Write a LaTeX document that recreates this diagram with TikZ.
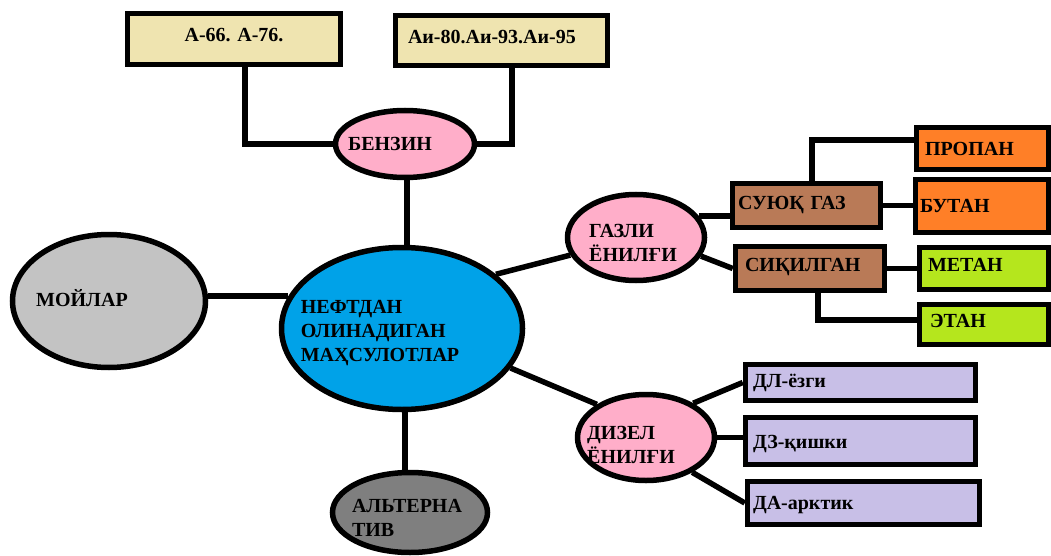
\documentclass[tikz,border=0pt]{standalone}
\usepackage{fontspec}
\setmainfont{Liberation Serif}
\usetikzlibrary{shapes.geometric}
\definecolor{wheat}{HTML}{EFE4B0}
\definecolor{pinkish}{HTML}{FFAEC9}
\definecolor{skyblue}{HTML}{00A2E8}
\definecolor{lightgrey}{HTML}{C3C3C3}
\definecolor{darkgrey}{HTML}{7F7F7F}
\definecolor{brownish}{HTML}{B97A57}
\definecolor{orangish}{HTML}{FF7F27}
\definecolor{limey}{HTML}{B5E61D}
\definecolor{lavender}{HTML}{C8BFE7}

\begin{document}
\begin{tikzpicture}[x=1pt,y=-1pt,line width=5.5pt,
        font=\rmfamily\bfseries\fontsize{20}{24}\selectfont,
        main/.style={ellipse,draw,inner sep=0pt},
        box/.style={rectangle,draw,align=left}]
		\useasboundingbox[fill=white] (0,0) rectangle (1051,556);
		% benzin
		\node [box,fill=wheat,align=center,minimum width=213pt,minimum height=51pt,text depth=9pt] (1) at (234,39) {А-66. А-76.};
		\node [box,fill=wheat,text width=187pt,inner xsep=12.5pt,minimum height=50pt,text depth=7pt] (2) at (501.5,40.5) {Аи-80.Аи-93.Аи-95};
		\node [main,fill=pinkish,minimum width=139pt,minimum height=67pt,
		       label={[xshift=-15pt]center:БЕНЗИН}] (3) at (405,144) {};
		% middle
		\node [main,fill=lightgrey,minimum width=193pt,minimum height=133pt,
		       label={[xshift=-27pt,yshift=2.5pt]center:МОЙЛАР}] (4) at (109,301) {};
		\node [main,fill=skyblue,minimum width=241pt,minimum height=162pt,
		       label={[xshift=-22pt,yshift=-4.5pt,align=left]center:НЕФТДАН\\ОЛИНАДИГАН\\МАҲСУЛОТЛАР}] (5) at (402,328.5) {};
		\node [main,fill=darkgrey,minimum width=155pt,minimum height=80pt,
		       label={[xshift=-3pt,yshift=-5.5pt,align=left]center:АЛЬТЕРНА\\ТИВ}] (17) at (410,512.5) {};
		% gas
		\node [main,fill=pinkish,minimum width=137pt,minimum height=86pt,
		       label={[xshift=-3pt,yshift=-5.5pt,align=left]center:ГАЗЛИ\\ЁНИЛҒИ}] (6) at (636,237.5) {};
		\node [box,fill=brownish,text width=137pt,inner xsep=5.5pt,minimum height=44pt] (7) at (806.5,205.5) {СУЮҚ ГАЗ};
		\node [box,fill=brownish,text width=130pt,inner xsep=9.5pt,minimum height=44pt,text depth=8pt] (8) at (810,268.5) {СИҚИЛГАН};
		\node [box,fill=orangish,text width=115pt,inner xsep=8.5pt,minimum height=42pt] (9) at (982.5,148.5) {ПРОПАН};
		\node [box,fill=orangish,text width=124pt,inner xsep=4.5pt,minimum height=53pt] (10) at (982,206) {БУТАН};
		\node [box,fill=limey,text width=112pt,inner xsep=8.5pt,minimum height=42pt,text depth=7pt] (11) at (984,268.5) {МЕТАН};
		\node [box,fill=limey,text width=108pt,inner xsep=10.5pt,minimum height=40pt,text depth=8pt] (12) at (984,324.5) {ЭТАН};
		% diesel
		\node [main,fill=pinkish,minimum width=137pt,minimum height=86pt,
		       label={[xshift=-15pt,yshift=-7.5pt,align=left]center:ДИЗЕЛ\\ЁНИЛҒИ}] (13) at (646,437.5) {};
		\node [box,fill=lavender,text width=215pt,inner xsep=7.5pt,minimum height=36pt] (14) at (860.5,382.5) {ДЛ-ёзги};
		\node [box,fill=lavender,text width=215pt,inner xsep=7.5pt,minimum height=47pt,text height=20pt] (15) at (860.5,441) {ДЗ-қишки};
		\node [box,fill=lavender,text width=221pt,inner xsep=5.5pt,minimum height=43pt,text height=17pt] (16) at (863.5,503) {ДА-арктик};
		% links
		\draw ([xshift=11pt]1.south) |- (3);
		\draw ([xshift=10.5pt]2.south) |- (3);
		\draw ([xshift=2pt]3.south) -- ([xshift=2pt]3.south |- 5.north);
		\draw (4.east |- 5.164) -- (5.164);
		\draw ([xshift=3pt]5.south) -- ([xshift=3pt]5.south |- 17.north);
		\draw (5.30) -- (6.195);
		\draw (6.19) -- (6.19 -| 7.west);
		\draw (6.-16) -- (8.west);
		\draw ([xshift=5.5pt]7.north) |- ([yshift=8.5pt]9.west);
		\draw (7.east) -- (7.east -| 10.west);
		\draw (8.east) -- (8.east -| 11.west);
		\draw ([xshift=8pt]8.south) |- ([yshift=4.5pt]12.west);
		\draw (5.-20) -- (13.146);
		\draw (13.36) -- (14.west);
		\draw (13.east) -- (13.east -| 15.west);
		\draw (13.-37) -- (16.west);
\end{tikzpicture}
\end{document}
